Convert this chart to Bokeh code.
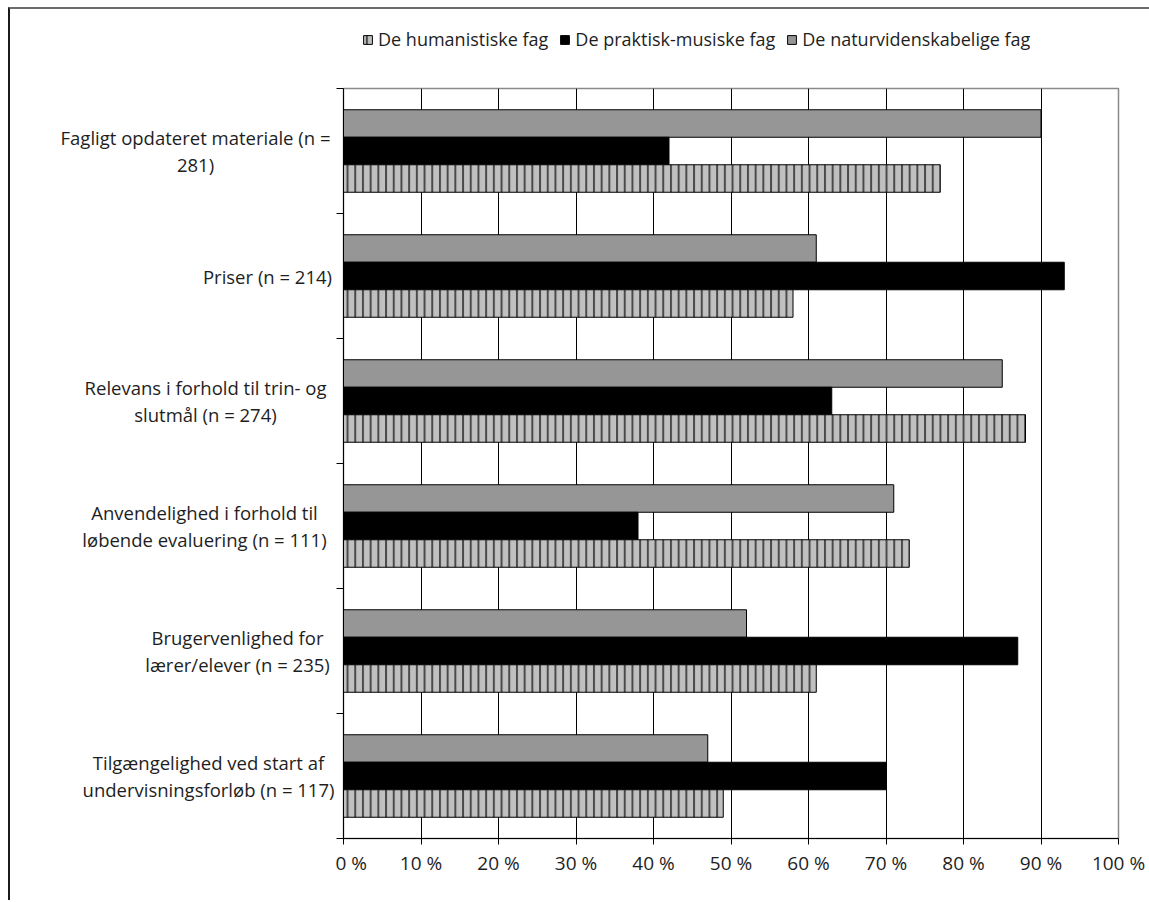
from bokeh.plotting import figure
from bokeh.layouts import column, row
from bokeh.models import (ColumnDataSource, Range1d, FixedTicker, Legend, LegendItem)
from bokeh.core.properties import value
from bokeh.embed import file_html
from bokeh.resources import INLINE

# ---- data ----
categories = [
    "Fagligt opdateret materiale (n =\n281)",
    "Priser (n = 214)",
    "Relevans i forhold til trin- og\nslutmål (n = 274)",
    "Anvendelighed i forhold til\nløbende evaluering (n = 111)",
    "Brugervenlighed for\nlærer/elever (n = 235)",
    "Tilgængelighed ved start af\nundervisningsforløb (n = 117)",
]
series_names = ["De humanistiske fag", "De praktisk-musiske fag", "De naturvidenskabelige fag"]
humanistiske = [77, 58, 88, 73, 61, 49]
praktisk = [42, 93, 63, 38, 87, 70]
natur = [90, 61, 85, 71, 52, 47]
x_ticks = [0, 10, 20, 30, 40, 50, 60, 70, 80, 90, 100]
x_tick_labels = [f"{t} %" for t in x_ticks]

# ---- layout / style constants ----
label_center_px = [195, 267, 205, 204, 237, 208]   # horizontal centre of each category label (page px)
FONT = "Open Sans"
TXT = "#1e1e1e"
GRAY = "#969696"
LIGHT = "#c0c0c0"
OX, OY = 10, 9            # content origin inside the chart border
W, H = 1149, 894
TOP_H = 88 - OY - 8
ROW_H = H - OY - TOP_H
LBL_W = 343 - OX - 8
MAIN_W = W - OX - LBL_W
MB_TOP, MB_BOTTOM, MB_LEFT, MB_RIGHT = 8, 56, 8, 31

n = len(categories)
ypos = [n - 0.5 - i for i in range(n)]
BAR_H = 0.22

src = ColumnDataSource(dict(hum=humanistiske, pra=praktisk, nat=natur,
                            y_nat=[v + BAR_H for v in ypos],
                            y_pra=ypos,
                            y_hum=[v - BAR_H for v in ypos]))

# ---- main chart ----
p = figure(width=MAIN_W, height=ROW_H, output_backend="svg", toolbar_location=None, title=None,
           x_range=Range1d(0, 100), y_range=Range1d(0, n),
           min_border_left=MB_LEFT, min_border_right=MB_RIGHT,
           min_border_top=MB_TOP, min_border_bottom=MB_BOTTOM,
           background_fill_color="white", border_fill_color="white")
p.outline_line_color = "#8a8a8a"
p.outline_line_width = 1.5

hum_style = dict(fill_color=LIGHT, line_color="#000000", line_width=1,
                 hatch_pattern="vertical_line", hatch_color="#4a4a4a",
                 hatch_scale=7.7, hatch_weight=2)
pra_style = dict(fill_color="#000000", line_color="#000000", line_width=1)
nat_style = dict(fill_color=GRAY, line_color="#000000", line_width=1)

p.hbar(y="y_nat", right="nat", left=0, height=BAR_H, source=src, **nat_style)
p.hbar(y="y_pra", right="pra", left=0, height=BAR_H, source=src, **pra_style)
p.hbar(y="y_hum", right="hum", left=0, height=BAR_H, source=src, **hum_style)

p.xaxis.ticker = FixedTicker(ticks=x_ticks)
p.xaxis.major_label_overrides = {t: l for t, l in zip(x_ticks, x_tick_labels)}
p.xaxis.minor_tick_line_color = None
p.xaxis.major_tick_in = 0
p.xaxis.major_tick_out = 6
p.xaxis.axis_line_color = "black"
p.xaxis.major_tick_line_color = "black"
p.xaxis.major_label_text_font = FONT
p.xaxis.major_label_text_font_size = "19px"
p.xaxis.major_label_text_color = TXT
p.xaxis.major_label_standoff = 5

p.yaxis.ticker = FixedTicker(ticks=list(range(n + 1)))
p.yaxis.major_label_overrides = {i: "" for i in range(n + 1)}
p.yaxis.major_label_text_font_size = "0px"
p.yaxis.major_label_standoff = 0
p.yaxis.major_tick_in = 0
p.yaxis.major_tick_out = 7
p.yaxis.major_tick_line_color = "black"
p.yaxis.minor_tick_line_color = None
p.yaxis.axis_line_color = "black"

p.xgrid.grid_line_color = "black"
p.xgrid.grid_line_width = 1
p.ygrid.grid_line_color = None

# ---- category labels (left, frame aligned with the main chart) ----
lab = figure(width=LBL_W, height=ROW_H, output_backend="svg", toolbar_location=None, title=None,
             x_range=Range1d(OX, OX + LBL_W), y_range=p.y_range,
             min_border_left=0, min_border_right=0,
             min_border_top=MB_TOP, min_border_bottom=MB_BOTTOM,
             x_axis_type=None, y_axis_type=None,
             background_fill_color="white", border_fill_color="white")
lab.outline_line_color = None
lab.grid.visible = False
lab.text(x=label_center_px, y=ypos, text=categories, text_align="center", text_baseline="middle",
         text_font=value(FONT), text_font_size=value("18.5px"), text_color=TXT,
         text_line_height=1.1)

# ---- legend strip (top) ----
leg = figure(width=W - OX, height=TOP_H, output_backend="svg", toolbar_location=None, title=None,
             x_range=Range1d(0, W - OX), y_range=Range1d(0, TOP_H),
             min_border=0, x_axis_type=None, y_axis_type=None,
             background_fill_color="white", border_fill_color="white")
leg.outline_line_color = None
leg.grid.visible = False
d_hum = leg.hbar(y=[-100], right=[1], left=0, height=1, **hum_style)
d_pra = leg.hbar(y=[-100], right=[1], left=0, height=1, **pra_style)
d_nat = leg.hbar(y=[-100], right=[1], left=0, height=1, **nat_style)
legend = Legend(items=[LegendItem(label=series_names[0], renderers=[d_hum]),
                       LegendItem(label=series_names[1], renderers=[d_pra]),
                       LegendItem(label=series_names[2], renderers=[d_nat])],
                orientation="horizontal", location=(362 - OX, 29),
                glyph_width=11, glyph_height=11, label_standoff=5, spacing=11,
                padding=0, margin=0, border_line_color=None, background_fill_alpha=0,
                label_text_font=FONT, label_text_font_size="18px", label_text_color=TXT)
leg.add_layout(legend, "center")

layout = column(leg, row(lab, p, spacing=0), spacing=0,
                styles={"margin-left": "8px", "margin-top": "7px", "padding-bottom": "6px",
                        "border-top": "2px solid #6b6b6b", "border-left": "2px solid #1a1a1a",
                        "background-color": "white"})
open("out.html", "w").write(file_html(layout, INLINE))
